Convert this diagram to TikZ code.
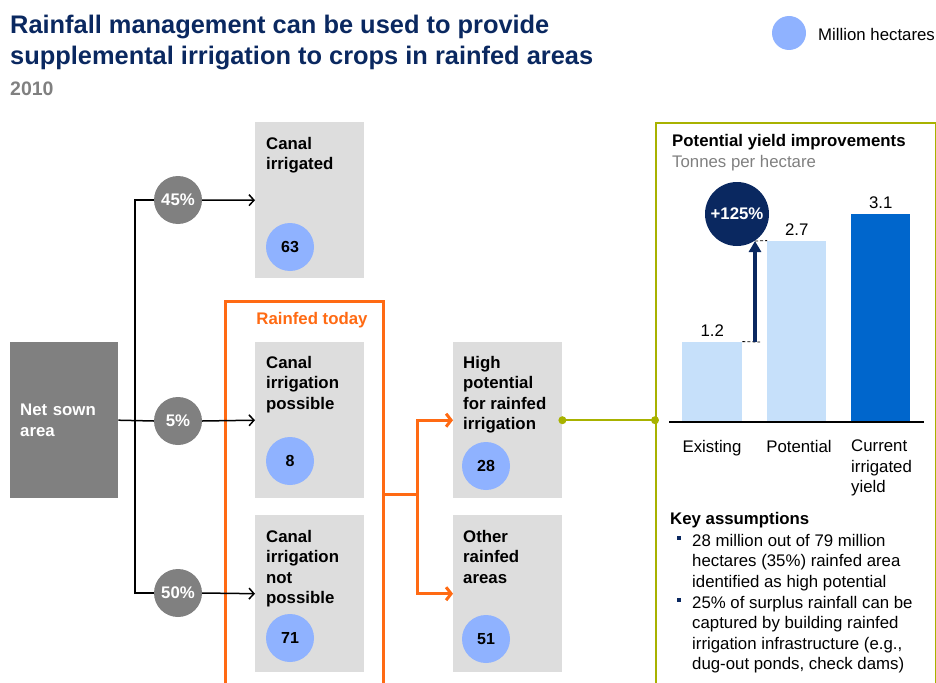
\documentclass[tikz,border=0pt]{standalone}
\usepackage{fontspec}
\setmainfont{Liberation Sans}
\usetikzlibrary{arrows.meta}
\definecolor{navy}{RGB}{10,40,96}
\definecolor{boxgray}{RGB}{221,221,221}
\definecolor{dgray}{RGB}{128,128,128}
\definecolor{cblue}{RGB}{143,178,255}
\definecolor{orng}{RGB}{255,106,19}
\definecolor{olv}{RGB}{168,178,0}
\definecolor{lbar}{RGB}{198,224,250}
\definecolor{dbar}{RGB}{0,102,204}
\begin{document}
\begin{tikzpicture}[x=1pt,y=-1pt,
  fb/.style={font=\bfseries\fontsize{16.8}{20.4}\selectfont},
  fr/.style={font=\fontsize{16.8}{20.4}\selectfont},
  gbox/.style={fill=boxgray, draw=none, minimum width=109pt, minimum height=156pt, inner sep=0pt, anchor=north west},
  lbl/.style={fb, align=left, anchor=north west, inner sep=0pt},
  rlbl/.style={fr, align=left, anchor=north west, inner sep=0pt},
  pct/.style={circle, fill=dgray, minimum size=48pt, inner sep=0pt, text=white, fb},
  num/.style={circle, fill=cblue, minimum size=48pt, inner sep=0pt, font=\bfseries\fontsize{16}{19}\selectfont},
  karr/.style={line width=1.5pt, -{Straight Barb[length=5pt,width=11pt]}},
  oarr/.style={draw=orng, line width=3pt, -{Straight Barb[length=5pt,width=13pt]}},
  bar/.style={anchor=south west, inner sep=0pt, draw=none},
  bullet/.style={fill=navy, minimum size=4.5pt, inner sep=0pt, rectangle}
]
\useasboundingbox (0,0) rectangle (936,682);
\clip (0,0) rectangle (936,682);

% title
\node[anchor=base west, inner sep=0pt, text=navy, font=\bfseries\fontsize{25.4}{31}\selectfont] (t1) at (10,34) {Rainfall management can be used to provide};
\node[anchor=base west, inner sep=0pt, text=navy, font=\bfseries\fontsize{25.4}{31}\selectfont] (t2) at (10,65) {supplemental irrigation to crops in rainfed areas};
\node[anchor=base west, inner sep=0pt, text=dgray, font=\bfseries\fontsize{19.5}{23}\selectfont] (yr) at (10,96) {2010};

% legend
\node[circle, fill=cblue, minimum size=34pt, inner sep=0pt] (leg) at (789,33) {};
\node[fr, anchor=west, inner sep=0pt] (legt) at (818,34) {Million hectares};

% net sown area
\node[fill=dgray, anchor=north west, minimum height=156pt, text width=88pt, inner xsep=10pt, inner ysep=0pt, align=left, fb, text=white] (net) at (10,342) {Net sown\\area};

% gray boxes
\node[gbox] (ci) at (255,122) {};
\node[gbox] (cip) at (255,342) {};
\node[gbox, minimum height=157pt] (cinp) at (255,515) {};
\node[gbox] (hp) at (453,342) {};
\node[gbox, minimum height=157pt] (ora) at (453,515) {};

\node[lbl] (cil) at (266,137) {Canal\\irrigated};
\node[lbl] (cipl) at (266,356) {Canal\\irrigation\\possible};
\node[lbl] (cinpl) at (266,530) {Canal\\irrigation\\not\\possible};
\node[lbl] (hpl) at (463,356) {High\\potential\\for rainfed\\irrigation};
\node[lbl] (oral) at (463,530) {Other\\rainfed\\areas};

\node[num] (n63) at (290,247) {63};
\node[num] (n8) at (290,461) {8};
\node[num] (n71) at (290,638) {71};
\node[num] (n28) at (486,466) {28};
\node[num] (n51) at (486,639) {51};

% rainfed today box
\node[draw=orng, line width=2.5pt, anchor=north west, minimum width=158pt, minimum height=420pt, inner sep=0pt] (rf) at (224,300) {};
\node[font=\bfseries\fontsize{16.8}{20.4}\selectfont, text=orng, inner sep=0pt] (rft) at (312,320) {Rainfed today};

% percent circles
\node[pct] (p45) at (178,200) {45\%};
\node[pct] (p5) at (178,421) {5\%};
\node[pct] (p50) at (178,593) {50\%};

% black connectors
\coordinate (vx) at (135,0);
\draw[line width=1.5pt] (net.east) -- (p5.west);
\draw[line width=1.5pt] (p45.west) -- (p45.west -| vx) -- (p50.west -| vx) -- (p50.west);
\draw[karr] (p45.east) -- (ci.west);
\draw[karr] (p5.east) -- (cip.west);
\draw[karr] (p50.east) -- (cinp.west);

% orange connectors
\coordinate (oj) at (417,494);
\draw[orng, line width=3pt] (rf.east |- oj) -- (oj);
\draw[oarr] (oj) |- (hp.west);
\draw[oarr] (oj) |- (ora.west);

% right panel
\node[draw=olv, line width=2pt, anchor=north west, minimum width=280pt, minimum height=600pt, inner sep=0pt] (panel) at (655,122) {};
\draw[olv, line width=2pt] (hp.east) -- (panel.west |- hp.east);
\fill[olv] (hp.east) circle (4pt);
\fill[olv] (panel.west |- hp.east) circle (4pt);

\node[fb, anchor=west, inner sep=0pt] (pyt) at (672,142) {Potential yield improvements};
\node[fr, anchor=west, inner sep=0pt, text=dgray] (pys) at (672,163) {Tonnes per hectare};

% bars
\node[bar, fill=lbar, minimum width=60pt, minimum height=80pt] (b1) at (682,422) {};
\node[bar, fill=lbar, minimum width=59pt, minimum height=181pt] (b2) at (767,422) {};
\node[bar, fill=dbar, minimum width=59pt, minimum height=208pt] (b3) at (851,422) {};
\draw[line width=2pt] (669,422) -- (924,422);

\node[fr, anchor=south, inner sep=0pt] (v1) at ([yshift=5pt]b1.north) {1.2};
\node[fr, anchor=south, inner sep=0pt] (v2) at ([yshift=5pt]b2.north) {2.7};
\node[fr, anchor=south, inner sep=0pt] (v3) at ([yshift=5pt]b3.north) {3.1};

\coordinate (a1) at (755,342);
\coordinate (a2) at (755,241);
\draw[densely dashed, line width=0.8pt] (b1.north east) -- ([xshift=5pt]a1);
\draw[densely dashed, line width=0.8pt] (a2) -- (b2.north west);
\draw[navy, line width=3.5pt, -{Triangle[length=11pt,width=12pt]}] (a1) -- (a2);
\node[circle, fill=navy, minimum size=64pt, inner sep=0pt, text=white, fb] (inc) at (737,214) {+125\%};

\node[fr, anchor=north, inner sep=0pt] (x1) at (712,440) {Existing};
\node[fr, anchor=north, inner sep=0pt] (x2) at (799,440) {Potential};
\node[rlbl] (x3) at (851,440) {Current\\irrigated\\yield};

\node[fb, anchor=west, inner sep=0pt] (ka) at (670,520) {Key assumptions};
\node[bullet] (bu1) at (679,538) {};
\node[bullet] (bu2) at (679,600) {};
\node[rlbl] (k1) at (692,534) {28 million out of 79 million\\hectares (35\%) rainfed area\\identified as high potential};
\node[rlbl] (k2) at (692,596) {25\% of surplus rainfall can be\\captured by building rainfed\\irrigation infrastructure (e.g.,\\dug-out ponds, check dams)};
\end{tikzpicture}
\end{document}
